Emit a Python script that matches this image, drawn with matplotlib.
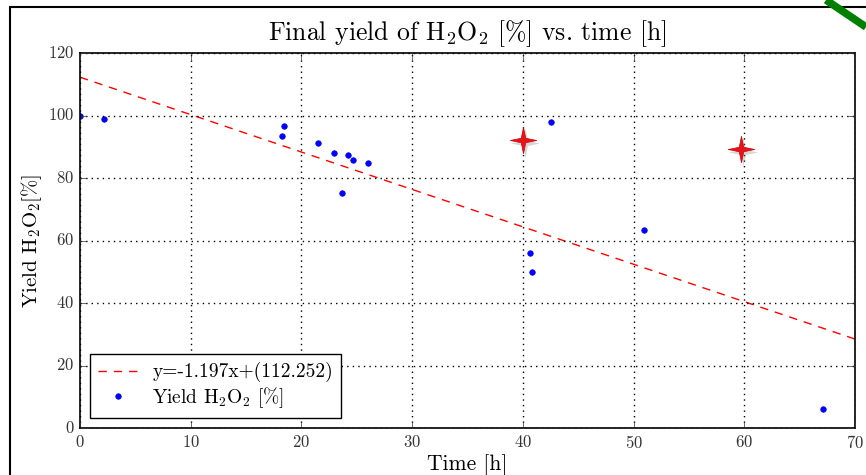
import numpy as np
import matplotlib
matplotlib.use("Agg")
import matplotlib.pyplot as plt
from matplotlib.patches import Rectangle
from matplotlib.lines import Line2D
from matplotlib.path import Path

plt.style.use("classic")
plt.rcParams["font.family"] = "serif"
plt.rcParams["font.serif"] = ["cmr10"]
plt.rcParams["mathtext.fontset"] = "cm"
plt.rcParams["axes.formatter.use_mathtext"] = True

# data
time_h = [0.0, 2.2, 18.2, 18.4, 21.5, 22.9, 23.7, 24.2, 24.7, 26.0, 40.6, 40.8, 42.5, 50.9, 67.1]
yield_pct = [100.0, 99.0, 93.5, 96.6, 91.3, 88.1, 75.3, 87.4, 85.9, 84.9, 56.0, 49.9, 98.0, 63.4, 6.0]

# highlighted points (red stars)
star_t = [40.0, 59.7]
star_y = [92.3, 89.4]

slope = -1.197
intercept = 112.252

# slim four-point star marker
r = 0.17
star = Path([(0, 1), (r, r), (1, 0), (r, -r), (0, -1), (-r, -r), (-1, 0), (-r, r), (0, 1)],
            [Path.MOVETO] + [Path.LINETO] * 7 + [Path.CLOSEPOLY])

fig = plt.figure(figsize=(8.66, 4.75), dpi=100, facecolor="white")
ax = fig.add_axes([80 / 866, 1 - 428 / 475, 775 / 866, 375 / 475])

xfit = np.array([0, 70])
ax.plot(xfit, slope * xfit + intercept, "r--", lw=1.0, dashes=(6, 5),
        label="y=%.3fx+(%.3f)" % (slope, intercept))
ax.plot(time_h, yield_pct, "o", color="b", mec="b", ms=4,
        label=r"Yield H$_2$O$_2$ [%]")

# red stars with a soft shadow
ax.plot(np.array(star_t) + 0.2, np.array(star_y) - 1.2, ls="none", marker=star,
        ms=21, color="0.55", mec="none", alpha=0.35, zorder=4)
ax.plot(star_t, star_y, ls="none", marker=star, ms=19, color="#e8141c",
        mec="#d00000", mew=0.5, zorder=5)

ax.set_xlim(0, 70)
ax.set_ylim(0, 120)
ax.set_xticks(range(0, 71, 10))
ax.set_yticks(range(0, 121, 20))
ax.grid(True, color="k", linestyle=":", lw=1.0)
ax.tick_params(labelsize=12, colors="0.2", length=5)
for s in ax.spines.values():
    s.set_linewidth(1.2)

ax.set_title(r"Final yield of H$_2$O$_2$ [%] vs. time [h]", fontsize=18.5, pad=9)
ax.set_xlabel("Time [h]", fontsize=15.5, labelpad=3)
ax.set_ylabel(r"Yield H$_2$O$_2$[%]", fontsize=15, labelpad=3)

leg = ax.legend(loc="lower left", fontsize=14, numpoints=1, handlelength=2.1,
                handletextpad=0.7, bbox_to_anchor=(0.013, 0.027), borderaxespad=0.0,
                labelspacing=0.15)
leg.get_frame().set_linewidth(1.0)

# outer page frame and green corner ribbon
fig.patches.append(Rectangle((10 / 866, -0.1), 1.2, 1.1 - 7 / 475, transform=fig.transFigure,
                             fill=False, ec="k", lw=1.5))
fig.lines.append(Line2D([826 / 866, 1.0], [1.0, 1 - 27 / 475], transform=fig.transFigure,
                        color="#008000", lw=5.5, solid_capstyle="butt"))

fig.savefig("out.png", dpi=100, facecolor="white")
